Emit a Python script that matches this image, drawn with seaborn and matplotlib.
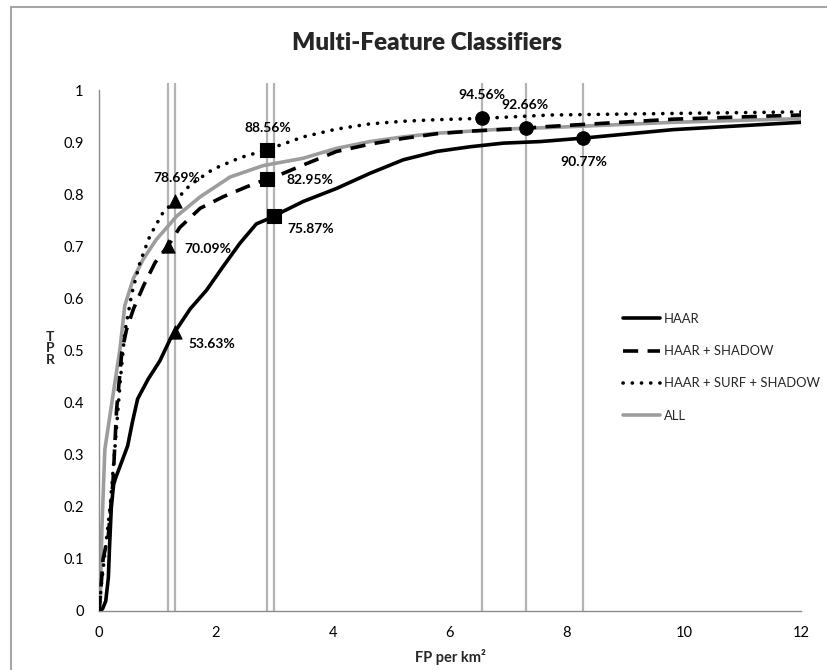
import matplotlib
matplotlib.use("Agg")
import matplotlib.pyplot as plt
import seaborn as sns
import pandas as pd
from matplotlib.lines import Line2D

# ---------------- data ----------------
haar_x = [0.0, 0.06, 0.115, 0.16, 0.18, 0.21, 0.25, 0.29, 0.34, 0.49, 0.57, 0.66, 0.84, 1.04, 1.21, 1.30,
          1.56, 1.84, 2.12, 2.41, 2.69, 2.88, 3.00, 3.49, 4.06, 4.63, 5.20, 5.77, 6.34, 6.91, 7.54, 8.28, 9.82, 12.0]
haar_y = [0.0, 0.004, 0.019, 0.064, 0.123, 0.198, 0.243, 0.257, 0.272, 0.317, 0.362, 0.407, 0.445, 0.48, 0.52, 0.5363,
          0.58, 0.616, 0.661, 0.706, 0.743, 0.752, 0.7587, 0.786, 0.811, 0.840, 0.866, 0.882, 0.891, 0.898, 0.901, 0.9077, 0.924, 0.938]

shadow_x = [0.0, 0.03, 0.07, 0.16, 0.24, 0.30, 0.39, 0.47, 0.59, 0.76, 0.96, 1.18, 1.38, 1.73, 2.12, 2.52, 2.88,
            2.98, 3.49, 4.06, 4.63, 5.20, 5.77, 6.34, 7.30, 7.54, 9.82, 12.0]
shadow_y = [0.0, 0.04, 0.10, 0.146, 0.25, 0.385, 0.497, 0.54, 0.58, 0.624, 0.669, 0.7009, 0.736, 0.773, 0.795, 0.814, 0.8295,
            0.832, 0.856, 0.882, 0.896, 0.907, 0.916, 0.921, 0.9266, 0.929, 0.944, 0.952]

surf_x = [0.0, 0.04, 0.10, 0.19, 0.27, 0.36, 0.44, 0.56, 0.70, 0.87, 1.10, 1.30, 1.56, 1.95, 2.41, 2.88,
          3.49, 4.06, 4.63, 5.20, 5.77, 6.55, 7.71, 9.82, 12.0]
surf_y = [0.0, 0.05, 0.11, 0.20, 0.31, 0.437, 0.534, 0.609, 0.669, 0.72, 0.766, 0.7869, 0.818, 0.848, 0.87, 0.8856,
          0.910, 0.925, 0.935, 0.940, 0.943, 0.9456, 0.952, 0.955, 0.958]

all_x = [0.0, 0.02, 0.05, 0.10, 0.22, 0.36, 0.44, 0.59, 0.76, 0.98, 1.33, 1.73, 2.24, 2.81, 3.49, 4.06,
         4.63, 5.20, 5.77, 6.34, 6.91, 7.71, 9.82, 12.0]
all_y = [0.0, 0.012, 0.16, 0.31, 0.40, 0.504, 0.586, 0.639, 0.676, 0.713, 0.758, 0.795, 0.833, 0.855, 0.869, 0.888,
         0.901, 0.910, 0.917, 0.921, 0.925, 0.928, 0.938, 0.945]

series_names = ["HAAR", "HAAR + SHADOW", "HAAR + SURF + SHADOW", "ALL"]

tri_x = [1.30, 1.18, 1.30]
tri_y = [0.5363, 0.7009, 0.7869]
sq_x = [3.00, 2.88, 2.88]
sq_y = [0.7587, 0.8295, 0.8856]
circ_x = [8.28, 7.30, 6.55]
circ_y = [0.9077, 0.9266, 0.9456]

vline_x = [1.18, 1.30, 2.88, 3.00, 6.55, 7.30, 8.28]

x_ticks = [0, 2, 4, 6, 8, 10, 12]
y_ticks = [0, 0.1, 0.2, 0.3, 0.4, 0.5, 0.6, 0.7, 0.8, 0.9, 1.0]
y_tick_labels = ["0", "0.1", "0.2", "0.3", "0.4", "0.5", "0.6", "0.7", "0.8", "0.9", "1"]

# ---------------- style ----------------
sns.set_style("white")
plt.rcParams["font.family"] = ["Lato", "DejaVu Sans"]

W, H = 828, 670
fig = plt.figure(figsize=(W / 100, H / 100), dpi=100)
fig.patch.set_facecolor("white")

L, R, T, B = 99, 801, 90, 611
ax = fig.add_axes([L / W, (H - B) / H, (R - L) / W, (B - T) / H])
ax.set_xlim(0, 12)
ax.set_ylim(0, 1)

grey_axis = "#8c8c8c"
ax.vlines(vline_x, 0, 1.014, colors="#b3b3b3", linewidth=1.6, clip_on=False, zorder=1)

lw = 2.6
sns.lineplot(x=haar_x, y=haar_y, ax=ax, color="black", linewidth=lw, sort=False, estimator=None, zorder=3)
sns.lineplot(x=shadow_x, y=shadow_y, ax=ax, color="black", linewidth=lw, sort=False, estimator=None,
             linestyle=(0, (4.2, 2.6)), zorder=3)
sns.lineplot(x=surf_x, y=surf_y, ax=ax, color="black", linewidth=lw, sort=False, estimator=None,
             linestyle=(0, (0.05, 2.5)), dash_capstyle="round", zorder=3)
sns.lineplot(x=all_x, y=all_y, ax=ax, color="#9d9d9d", linewidth=lw, sort=False, estimator=None, zorder=2)

sns.scatterplot(x=tri_x, y=tri_y, ax=ax, marker="^", s=90, color="black", edgecolor="black", zorder=5)
sns.scatterplot(x=sq_x, y=sq_y, ax=ax, marker="s", s=95, color="black", edgecolor="black", zorder=5)
sns.scatterplot(x=circ_x, y=circ_y, ax=ax, marker="o", s=95, color="black", edgecolor="black", zorder=5)

# data labels
label_offsets = {
    "tri": [(37, -12), (40, -3), (2, 23)],
    "sq": [(36, -13), (42, -1), (0, 22)],
    "circ": [(0, -24), (-1, 23), (0, 23)],
}
for key, xs, ys in [("tri", tri_x, tri_y), ("sq", sq_x, sq_y), ("circ", circ_x, circ_y)]:
    for (xv, yv), off in zip(zip(xs, ys), label_offsets[key]):
        ax.annotate(f"{yv * 100:.2f}%", (xv, yv), xytext=off, textcoords="offset pixels",
                    ha="center", va="center", fontsize=10, fontweight="bold", color="black", zorder=6)

# axes styling
for s in ["top", "right"]:
    ax.spines[s].set_visible(False)
for s in ["left", "bottom"]:
    ax.spines[s].set_color(grey_axis)
    ax.spines[s].set_linewidth(1.0)
ax.set_xticks(x_ticks)
ax.set_xticklabels([str(v) for v in x_ticks])
ax.set_yticks(y_ticks)
ax.set_yticklabels(y_tick_labels)
ax.tick_params(axis="both", direction="out", length=5, width=1, color=grey_axis,
               labelsize=10.5, labelcolor="black", pad=6)
ax.tick_params(axis="x", pad=6)
ax.set_xlabel("")
ax.set_ylabel("")

fig.text(450 / W, 1 - 657 / H, "FP per km²", ha="center", va="center", fontsize=10.5, fontweight="bold")
for i, ch in enumerate("TPR"):
    fig.text(50 / W, 1 - (337 + 11.5 * i) / H, ch, ha="center", va="center", fontsize=10,
             fontweight="bold")
fig.text(427 / W, 1 - 43 / H, "Multi-Feature Classifiers", ha="center", va="center",
         fontsize=17.5, fontweight="heavy")

# legend
handles = [
    Line2D([0], [0], color="black", linewidth=lw),
    Line2D([0], [0], color="black", linewidth=lw, linestyle=(0, (4.2, 2.6))),
    Line2D([0], [0], color="black", linewidth=lw, linestyle=(0, (0.05, 2.5)), dash_capstyle="round"),
    Line2D([0], [0], color="#9d9d9d", linewidth=lw),
]
leg = fig.legend(handles, series_names, loc="upper left", bbox_to_anchor=(623 / W, 1 - 313 / H),
                 frameon=False, fontsize=9.4, handlelength=2.8, handletextpad=0.35,
                 labelspacing=1.55, borderpad=0, borderaxespad=0)

# chart-area border (left and top edges visible in the reference)
border_col = "#a6a6a6"
fig.add_artist(Line2D([11 / W, 11 / W], [0, 1 - 7 / H], transform=fig.transFigure,
                      color=border_col, linewidth=1.5))
fig.add_artist(Line2D([11 / W, 1], [1 - 7 / H, 1 - 7 / H], transform=fig.transFigure,
                      color=border_col, linewidth=1.5))

fig.savefig("out.png", dpi=100, facecolor="white")
